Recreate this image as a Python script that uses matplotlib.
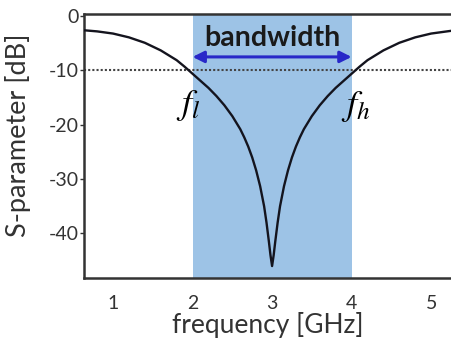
import numpy as np
import matplotlib
matplotlib.use("Agg")
import matplotlib.pyplot as plt

# reflection curve, lower branch then upper branch (GHz, dB)
freq_low = [0.64, 0.8, 1.0, 1.2, 1.4, 1.6, 1.8, 1.9, 2.0, 2.1, 2.2, 2.3, 2.4,
            2.5, 2.6, 2.65, 2.7, 2.75, 2.8, 2.85, 2.9, 2.93, 2.96, 2.98, 3.0]
s_low = [-2.6, -2.8, -3.2, -3.9, -4.9, -6.3, -8.1, -9.3, -10.6, -11.9, -13.2,
         -14.7, -16.4, -18.4, -20.8, -22.3, -24.0, -26.0, -28.4, -31.3, -35.0,
         -38.0, -41.5, -44.0, -46.0]
freq_high = [3.02, 3.04, 3.07, 3.1, 3.15, 3.2, 3.25, 3.3, 3.35, 3.4, 3.5, 3.6,
             3.7, 3.8, 3.9, 4.0, 4.1, 4.2, 4.4, 4.6, 4.8, 5.0, 5.25]
s_high = [-44.0, -41.5, -38.0, -35.0, -31.3, -28.4, -26.0, -24.0, -22.3, -20.8,
          -18.4, -16.4, -14.7, -13.2, -11.9, -10.6, -9.3, -8.1, -6.3, -4.9,
          -3.9, -3.2, -2.7]

f_low, f_high = 2.0, 4.0
threshold = -10
xticks = [1, 2, 3, 4, 5]
yticks = [0, -10, -20, -30, -40]

plt.rcParams['font.family'] = ['Lato', 'DejaVu Sans']
plt.rcParams['mathtext.fontset'] = 'stix'
plt.rcParams['axes.unicode_minus'] = False

fig = plt.figure(figsize=(4.51, 3.42), dpi=100)
ax = fig.add_axes([84 / 451, 1 - 278 / 342, 1 - 84 / 451, (278 - 14) / 342])

ax.axvspan(f_low, f_high, color='#9dc3e6', lw=0, zorder=0)
ax.axhline(threshold, color='#444444', lw=1.5, ls=(0, (1, 1)), zorder=1)
ax.plot(freq_low + freq_high, s_low + s_high, color='#14141e', lw=1.7, zorder=3)

ax.annotate('', xy=(f_high, -7.5), xytext=(f_low, -7.5),
            arrowprops=dict(arrowstyle='<|-|>', color='#2828c8', lw=2.2,
                            mutation_scale=17, shrinkA=0, shrinkB=0))
ax.text(3.0, -4.0, 'bandwidth', ha='center', va='center', fontsize=20.5,
        fontweight='bold', color='#1a1a1a')
ax.text(1.94, -16.4, r'$f_l$', ha='center', va='center', fontsize=26)
ax.text(4.05, -16.6, r'$f_h$', ha='center', va='center', fontsize=26)

ax.set_xlim(0.635, 5.25)
ax.set_ylim(-48.2, 0.4)
ax.set_xticks(xticks)
ax.set_yticks(yticks)
ax.tick_params(axis='x', length=0, pad=12, labelsize=14, colors='#333333')
ax.tick_params(axis='y', length=3, width=1, pad=1, labelsize=14, colors='#333333')
ax.set_xlabel('frequency [GHz]', fontsize=19, color='#333333', labelpad=0)
ax.set_ylabel('S-parameter [dB]', fontsize=19.5, color='#333333')
ax.yaxis.set_label_coords(-0.145, 0.54)

for side in ['top', 'left', 'bottom']:
    ax.spines[side].set_linewidth(1.8)
    ax.spines[side].set_color('#333333')
ax.spines['right'].set_visible(False)

fig.savefig('out.png', dpi=100)
